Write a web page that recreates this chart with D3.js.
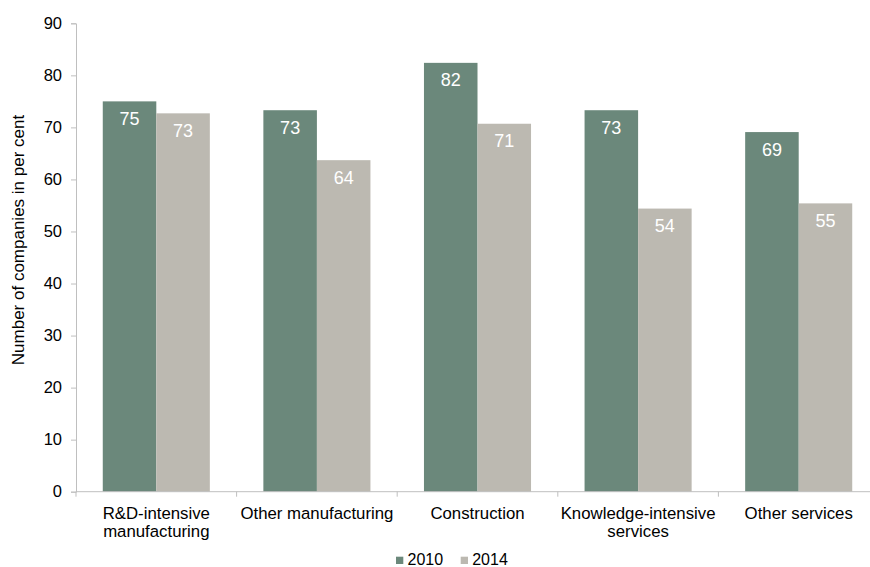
<!DOCTYPE html>
<html>
<head>
<meta charset="utf-8">
<script src="https://cdn.jsdelivr.net/npm/d3@7"></script>
<style>
  body { margin: 0; background: #fff; }
  text { font-family: Arial, "Liberation Sans", sans-serif; }
</style>
</head>
<body>
<script>
// data
const categories = [
  ["R&D-intensive", "manufacturing"],
  ["Other manufacturing"],
  ["Construction"],
  ["Knowledge-intensive", "services"],
  ["Other services"]
];
const series = ["2010", "2014"];
const values2010 = [75.0, 73.3, 82.4, 73.3, 69.1];
const values2014 = [72.7, 63.7, 70.7, 54.4, 55.4];
const yTicks = [0, 10, 20, 30, 40, 50, 60, 70, 80, 90];
const colors = ["#6b887b", "#bcb9b1"];

const W = 870, H = 567;
const mLeft = 76, mRight = 879, mTop = 23.3, mBottom = 491.7;

const svg = d3.select("body").append("svg")
  .attr("width", W)
  .attr("height", H);

const catKeys = categories.map(c => c.join(" "));

const x0 = d3.scaleBand()
  .domain(catKeys)
  .range([mLeft, mRight]);

const x1 = d3.scaleBand()
  .domain(series)
  .range([0, x0.bandwidth()])
  .paddingOuter(0.5);

const y = d3.scaleLinear()
  .domain([0, 90])
  .range([mBottom, mTop]);

// y axis
const yAxis = svg.append("g")
  .attr("transform", `translate(${mLeft},0)`)
  .call(d3.axisLeft(y).tickValues(yTicks).tickSize(5).tickPadding(9));
yAxis.select(".domain").attr("stroke", "#bfbfbf");
yAxis.selectAll(".tick line").attr("stroke", "#bfbfbf");
yAxis.selectAll(".tick text")
  .attr("font-size", "16.5px")
  .attr("fill", "#000");

// bars
const rows = catKeys.map((k, i) => ({ key: k, vals: [values2010[i], values2014[i]] }));

const groups = svg.append("g").selectAll("g")
  .data(rows)
  .enter().append("g")
  .attr("transform", d => `translate(${x0(d.key)},0)`);

groups.selectAll("rect")
  .data(d => d.vals.map((v, j) => ({ s: series[j], v: v, j: j })))
  .enter().append("rect")
  .attr("x", d => x1(d.s))
  .attr("width", x1.bandwidth())
  .attr("y", d => y(d.v))
  .attr("height", d => y(0) - y(d.v))
  .attr("fill", d => colors[d.j]);

groups.selectAll("text.val")
  .data(d => d.vals.map((v, j) => ({ s: series[j], v: v })))
  .enter().append("text")
  .attr("class", "val")
  .attr("x", d => x1(d.s) + x1.bandwidth() / 2)
  .attr("y", d => y(d.v) + 23.5)
  .attr("text-anchor", "middle")
  .attr("font-size", "18px")
  .attr("fill", "#fff")
  .text(d => Math.round(d.v));

// x axis
const xAxis = svg.append("g")
  .attr("transform", `translate(0,${mBottom})`);
xAxis.append("line")
  .attr("x1", mLeft).attr("x2", mRight)
  .attr("stroke", "#bfbfbf");
xAxis.selectAll("line.tk")
  .data(catKeys)
  .enter().append("line")
  .attr("class", "tk")
  .attr("x1", d => x0(d)).attr("x2", d => x0(d))
  .attr("y1", 0).attr("y2", 5)
  .attr("stroke", "#bfbfbf");

const xl = xAxis.selectAll("text")
  .data(categories)
  .enter().append("text")
  .attr("text-anchor", "middle")
  .attr("font-size", "16.8px")
  .attr("fill", "#000")
  .attr("transform", (d, i) => `translate(${x0(catKeys[i]) + x0.bandwidth() / 2},27.3)`);
xl.selectAll("tspan")
  .data(d => d)
  .enter().append("tspan")
  .attr("x", 0)
  .attr("dy", (d, i) => i === 0 ? 0 : 18)
  .text(d => d);

// y title
svg.append("text")
  .attr("transform", `translate(24,240) rotate(-90)`)
  .attr("text-anchor", "middle")
  .attr("font-size", "17px")
  .attr("fill", "#000")
  .text("Number of companies in per cent");

// legend
const legend = svg.append("g");
const legX = [396, 460.7];
series.forEach((s, i) => {
  legend.append("rect")
    .attr("x", legX[i]).attr("y", 556.7)
    .attr("width", 7.3).attr("height", 7.3)
    .attr("fill", colors[i]);
  legend.append("text")
    .attr("x", legX[i] + 11.5).attr("y", 565.3)
    .attr("font-size", "16px")
    .attr("fill", "#000")
    .text(s);
});
</script>
</body>
</html>
